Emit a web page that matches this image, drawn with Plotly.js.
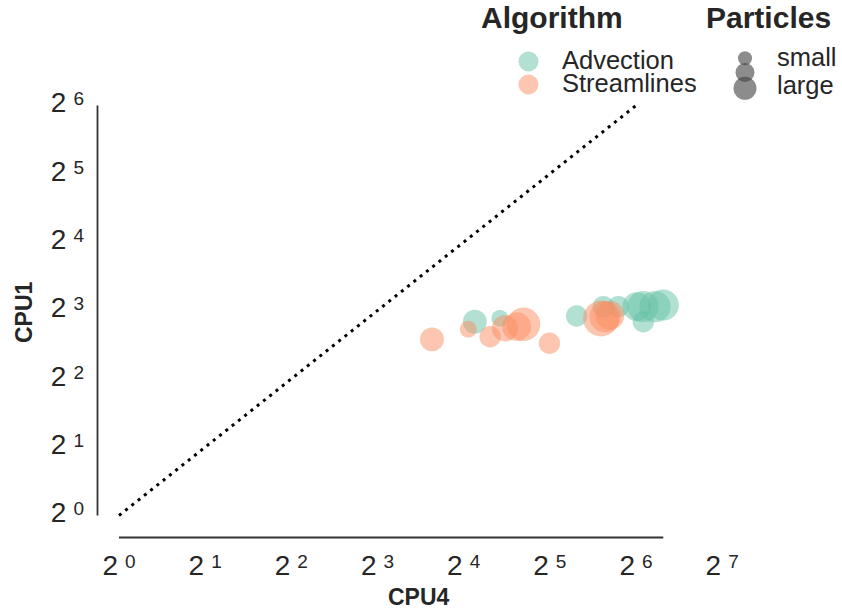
<!DOCTYPE html>
<html>
<head>
<meta charset="utf-8">
<script src="https://cdn.plot.ly/plotly-3.0.1.min.js"></script>
<style>
  html, body { margin: 0; padding: 0; background: #fff; }
  #chart { width: 842px; height: 612px; }
</style>
</head>
<body>
<div id="chart"></div>
<script>
// CPU time on 4 cores vs. 1 core, per algorithm; marker area ~ particle count (millions)
const advectionCPU4 = [17.5, 21.4, 39.7, 49.2, 55.5, 64.4, 67.9, 67.7, 74.6, 79.7];
const advectionCPU1 = [7.14, 7.39, 7.57, 8.32, 8.32, 8.32, 7.14, 8.32, 8.32, 8.46];
const advectionParticles = [4.0, 2.0, 3.2, 3.2, 3.2, 5.8, 3.2, 6.8, 6.8, 6.8];

const streamlinesCPU4 = [12.4, 16.6, 19.8, 22.3, 24.5, 25.9, 31.9, 48.3, 49.9, 51.9];
const streamlinesCPU1 = [5.97, 6.61, 6.13, 6.68, 6.79, 6.96, 5.74, 7.38, 7.51, 7.61];
const streamlinesParticles = [4.0, 2.0, 3.2, 4.8, 5.8, 7.8, 3.2, 9.0, 6.8, 5.8];

// equal-time reference line CPU1 = CPU4
const parity = [1, 64];

const xTickPowers = [0, 1, 2, 3, 4, 5, 6, 7];
const yTickPowers = [0, 1, 2, 3, 4, 5, 6];

const algorithmNames = ['Advection', 'Streamlines'];
const particleLabels = ['small', 'large'];

const TEAL = '#66c2a5';
const SALMON = '#fc8d62';
const INK = '#262626';
const FONT = '"Liberation Sans", Arial, Helvetica, sans-serif';

// page geometry
const W = 842, H = 612;
const M = { l: 97, r: 82, t: 95, b: 75 };
const PW = W - M.l - M.r, PH = H - M.t - M.b;
const xRange2 = [-0.2553, 7.439];   // log2 units
const yRange2 = [-0.3147, 6.154];
const LOG2 = Math.log10(2);
const xRange = xRange2.map(v => v * LOG2);
const yRange = yRange2.map(v => v * LOG2);

// data value -> paper fraction (log axes)
const xPaper = v => (Math.log10(v) - xRange[0]) / (xRange[1] - xRange[0]);
const yPaper = v => (Math.log10(v) - yRange[0]) / (yRange[1] - yRange[0]);
// pixel -> paper fraction
const pxX = p => (p - M.l) / PW;
const pxY = p => (M.t + PH - p) / PH;

const powLabel = k => '2\u2005<span style="font-size:19px;baseline-shift:7px">' + k + '</span>';

const markerBase = { sizemode: 'area', sizeref: 0.014, opacity: 0.5, line: { width: 0 } };

const traces = [
  {
    x: parity, y: parity, mode: 'lines', showlegend: false, hoverinfo: 'skip',
    line: { color: '#000', width: 3, dash: '3px,5px' }
  },
  {
    name: algorithmNames[0], x: advectionCPU4, y: advectionCPU1, mode: 'markers', showlegend: false,
    marker: Object.assign({ color: TEAL, size: advectionParticles }, markerBase)
  },
  {
    name: algorithmNames[1], x: streamlinesCPU4, y: streamlinesCPU1, mode: 'markers', showlegend: false,
    marker: Object.assign({ color: SALMON, size: streamlinesParticles }, markerBase)
  }
];

const allX = advectionCPU4.concat(streamlinesCPU4);
const xMaxData = Math.max.apply(null, allX);
const xTickVals = xTickPowers.map(k => Math.pow(2, k));
const yTickVals = yTickPowers.map(k => Math.pow(2, k));

// trimmed, offset axis spines
const spineColor = '#333333';
const shapes = [
  { type: 'line', xref: 'paper', yref: 'paper',
    x0: xPaper(xTickVals[0]), x1: xPaper(xMaxData), y0: pxY(537.5), y1: pxY(537.5),
    line: { color: spineColor, width: 1.8 } },
  { type: 'line', xref: 'paper', yref: 'paper',
    x0: pxX(97.5), x1: pxX(97.5), y0: yPaper(yTickVals[0]), y1: yPaper(yTickVals[yTickVals.length - 1]),
    line: { color: spineColor, width: 1.8 } }
];

// legend swatches
function dot(cx, cy, r, fill) {
  return { type: 'circle', xref: 'paper', yref: 'paper', xsizemode: 'pixel', ysizemode: 'pixel',
    xanchor: pxX(cx), yanchor: pxY(cy), x0: -r, x1: r, y0: -r, y1: r,
    fillcolor: fill, line: { width: 0 }, layer: 'above' };
}
shapes.push(dot(528.5, 61.5, 10, 'rgba(102,194,165,0.5)'));
shapes.push(dot(528.5, 84.5, 10, 'rgba(252,141,98,0.5)'));
shapes.push(dot(745, 58.3, 7, 'rgba(64,64,64,0.6)'));
shapes.push(dot(745, 72.5, 9.5, 'rgba(64,64,64,0.6)'));
shapes.push(dot(745, 88.3, 11.5, 'rgba(64,64,64,0.6)'));

function label(text, px, py, size, opts) {
  return Object.assign({ text: text, xref: 'paper', yref: 'paper', x: pxX(px), y: pxY(py),
    xanchor: 'left', yanchor: 'middle', showarrow: false, borderpad: 0,
    font: { family: FONT, size: size, color: INK } }, opts || {});
}

const annotations = [
  label('<b>Algorithm</b>', 480, 18, 30),
  label('<b>Particles</b>', 705, 18, 30),
  label(algorithmNames[0], 561, 60, 25.5, { height: 22 }),
  label(algorithmNames[1], 561, 82.5, 25.5, { height: 22 }),
  label(particleLabels[0], 776, 57, 25.5),
  label(particleLabels[1], 776, 85, 25.5),
  label('<b>CPU4</b>', 419, 597, 23, { xanchor: 'center' }),
  label('<b>CPU1</b>', 23.5, 312.5, 23, { xanchor: 'center', textangle: -90 })
];

const layout = {
  width: W, height: H,
  margin: M,
  paper_bgcolor: '#fff', plot_bgcolor: '#fff',
  font: { family: FONT, color: INK },
  showlegend: false,
  xaxis: {
    type: 'log', range: xRange, showgrid: false, zeroline: false, showline: false,
    ticks: '', tickvals: xTickVals, ticktext: xTickPowers.map(powLabel),
    tickfont: { family: FONT, size: 28, color: INK }, ticklabelstandoff: 9
  },
  yaxis: {
    type: 'log', range: yRange, showgrid: false, zeroline: false, showline: false,
    ticks: '', tickvals: yTickVals, ticktext: yTickPowers.map(powLabel),
    tickfont: { family: FONT, size: 28, color: INK }, ticklabelstandoff: 12, ticklabelshift: -3
  },
  shapes: shapes,
  annotations: annotations
};

Plotly.newPlot('chart', traces, layout, { displayModeBar: false, staticPlot: true });
</script>
</body>
</html>
